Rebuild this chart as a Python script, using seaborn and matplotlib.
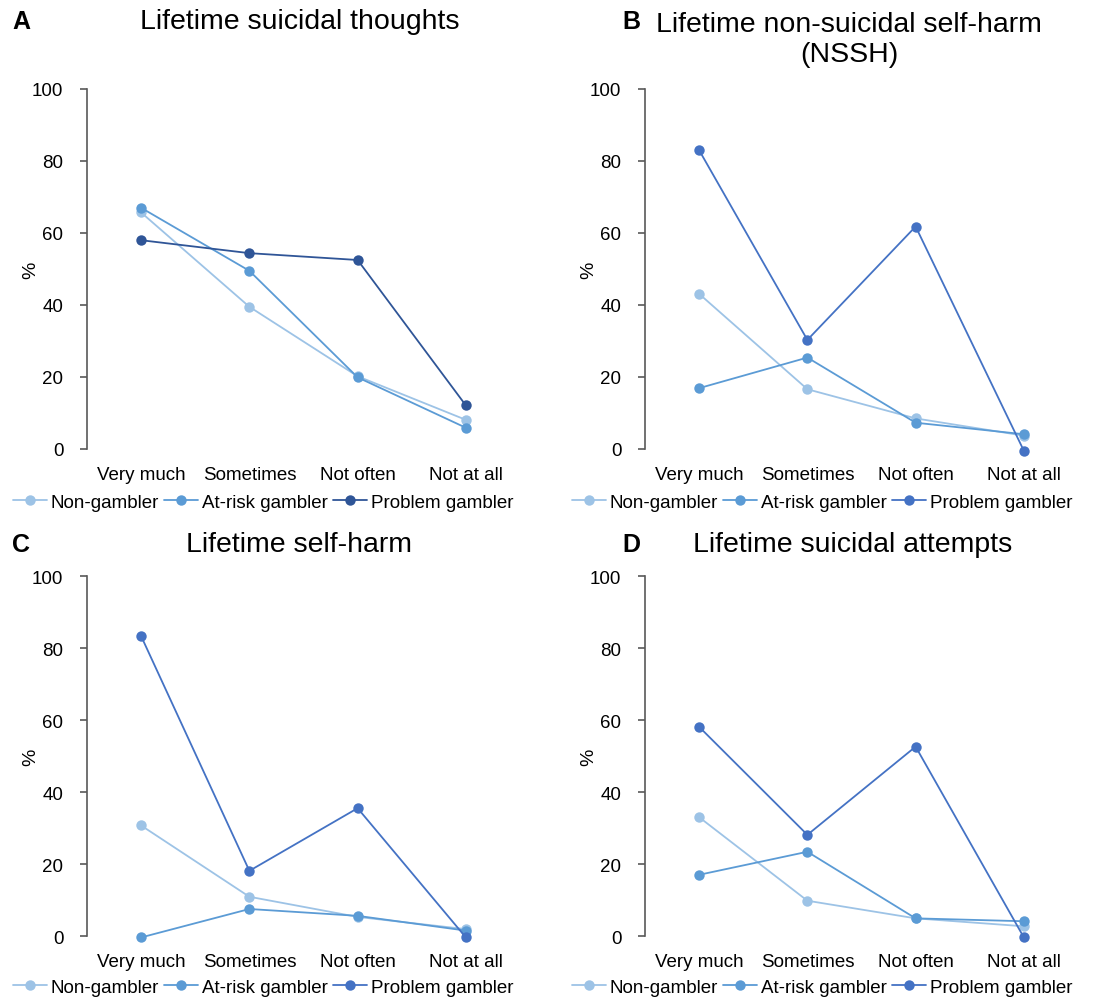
import pandas as pd
import matplotlib
matplotlib.use('Agg')
import matplotlib.pyplot as plt
import seaborn as sns

categories = ['Very much', 'Sometimes', 'Not often', 'Not at all']
groups = ['Non-gambler', 'At-risk gambler', 'Problem gambler']

# values (%)
thoughts_non = [65.7, 39.5, 20.2, 8.1]
thoughts_risk = [67.0, 49.5, 19.9, 5.9]
thoughts_prob = [58.0, 54.4, 52.5, 12.1]

nssh_non = [43.1, 16.6, 8.5, 3.7]
nssh_risk = [16.9, 25.4, 7.3, 4.1]
nssh_prob = [83.0, 30.3, 61.8, -0.5]

selfharm_non = [30.7, 10.9, 5.3, 1.9]
selfharm_risk = [-0.4, 7.5, 5.6, 1.5]
selfharm_prob = [83.3, 18.1, 35.5, -0.4]

attempts_non = [33.0, 9.8, 4.9, 2.7]
attempts_risk = [17.0, 23.4, 4.9, 4.1]
attempts_prob = [58.1, 28.1, 52.6, -0.4]

panels = [
    ('A', 'Lifetime suicidal thoughts', [thoughts_non, thoughts_risk, thoughts_prob], '#2F5597'),
    ('B', 'Lifetime non-suicidal self-harm\n(NSSH)', [nssh_non, nssh_risk, nssh_prob], '#4472C4'),
    ('C', 'Lifetime self-harm', [selfharm_non, selfharm_risk, selfharm_prob], '#4472C4'),
    ('D', 'Lifetime suicidal attempts', [attempts_non, attempts_risk, attempts_prob], '#4472C4'),
]

sns.set_style('white')
plt.rcParams['font.family'] = ['Liberation Sans', 'DejaVu Sans']
plt.rcParams['text.color'] = 'black'
plt.rcParams['axes.labelcolor'] = 'black'
plt.rcParams['xtick.color'] = 'black'
plt.rcParams['ytick.color'] = 'black'

W, H = 1101, 1003
fig = plt.figure(figsize=(W / 100, H / 100), dpi=100)

# pixel boxes: left, top(of plot), right, bottom(zero line)
boxes = [(87, 90, 520, 450), (645, 90, 1078, 450),
         (87, 577, 520, 937), (645, 577, 1078, 937)]
letter_pos = [(12, 22), (622, 22), (12, 545), (622, 545)]
title_pos = [(300, 22), (849, 40), (299, 545), (853, 545)]
legend_pos = [(263, 503), (822, 503), (263, 988), (822, 988)]

for i, (letter, title, series, prob_color) in enumerate(panels):
    l, t, r, b = boxes[i]
    ax = fig.add_axes([l / W, 1 - b / H, (r - l) / W, (b - t) / H])
    rows = []
    for g, vals in zip(groups, series):
        for c, v in zip(categories, vals):
            rows.append({'cat': c, 'group': g, 'pct': v})
    df = pd.DataFrame(rows)
    df['cat'] = pd.Categorical(df['cat'], categories=categories, ordered=True)
    palette = {'Non-gambler': '#9DC3E6', 'At-risk gambler': '#5B9BD5',
               'Problem gambler': prob_color}
    sns.lineplot(data=df, x='cat', y='pct', hue='group', hue_order=groups,
                 palette=palette, marker='o', markersize=7.5, markeredgewidth=0,
                 linewidth=1.3, sort=False, ax=ax, clip_on=False)
    ax.set_xlim(-0.5, 3.5)
    ax.set_ylim(0, 100)
    ax.set_yticks(range(0, 101, 20))
    ax.set_xlabel('')
    ax.set_ylabel('%', fontsize=14)
    ax.yaxis.set_label_coords(-0.11, 0.5)
    for s in ['top', 'right', 'bottom']:
        ax.spines[s].set_visible(False)
    ax.spines['left'].set_color('#595959')
    ax.spines['left'].set_linewidth(1.2)
    ax.tick_params(axis='y', left=True, length=5, width=1.2, color='#595959',
                   labelsize=13.5, pad=12)
    ax.tick_params(axis='x', length=0, labelsize=13.5, pad=12)
    handles, labels = ax.get_legend_handles_labels()
    ax.get_legend().remove()
    lx, ly = legend_pos[i]
    fig.legend(handles, labels, loc='center', bbox_to_anchor=(lx / W, 1 - ly / H),
               ncol=3, frameon=False, fontsize=13.5, handlelength=1.8,
               handletextpad=0.2, columnspacing=0.3, borderaxespad=0)
    fx, fy = letter_pos[i]
    fig.text(fx / W, 1 - fy / H, letter, fontsize=18, fontweight='bold',
             ha='left', va='center')
    tx, ty = title_pos[i]
    fig.text(tx / W, 1 - ty / H, title, fontsize=20.5, ha='center', va='center',
             linespacing=1.15)

fig.savefig('out.png', dpi=100)
